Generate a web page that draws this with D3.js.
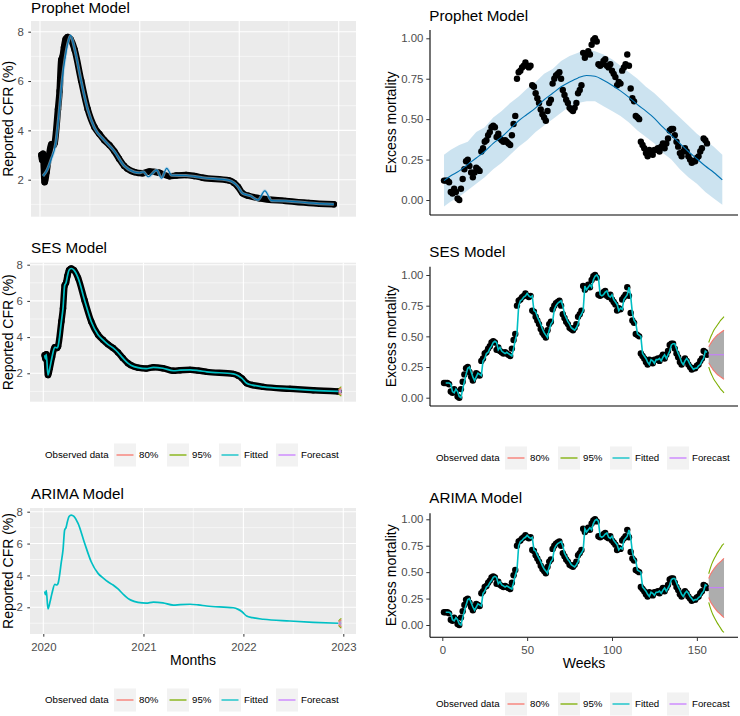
<!DOCTYPE html>
<html>
<head>
<meta charset="utf-8">
<script src="https://cdn.jsdelivr.net/npm/d3@7"></script>
<style>
  body { margin: 0; background: #fff; }
  svg { display: block; font-family: "Liberation Sans", Arial, sans-serif; }
</style>
</head>
<body>
<svg id="chart" width="740" height="716"></svg>
<script>
// ---- reported CFR (%) ----
const cfrDates = [
  '2020-01-06', '2020-01-09', '2020-01-12', '2020-01-18', '2020-01-25', '2020-02-02',
  '2020-02-12', '2020-02-20', '2020-02-24', '2020-03-07', '2020-03-13', '2020-03-19',
  '2020-03-24', '2020-03-29', '2020-04-04', '2020-04-12', '2020-04-22', '2020-05-07',
  '2020-05-31', '2020-06-24', '2020-07-19', '2020-08-06', '2020-08-24', '2020-09-12',
  '2020-09-30', '2020-10-17', '2020-11-05', '2020-11-16', '2020-12-12', '2021-01-11',
  '2021-02-06', '2021-03-13', '2021-04-20', '2021-05-15', '2021-06-20', '2021-07-20',
  '2021-08-20', '2021-11-25', '2021-12-13', '2021-12-27', '2022-01-13', '2022-02-03',
  '2022-03-15', '2022-06-20', '2022-09-13', '2022-12-14'
];
const cfrValues = [
  3.0, 2.8, 3.05, 1.9, 2.3, 2.9,
  3.44, 3.4, 3.5, 4.86, 5.6, 6.85,
  7.0, 7.37, 7.7, 7.79, 7.7, 7.27,
  6.02, 4.86, 4.13, 3.85, 3.6, 3.4,
  3.15, 2.85, 2.56, 2.45, 2.31, 2.26,
  2.33, 2.28, 2.14, 2.17, 2.19, 2.15,
  2.08, 1.97, 1.87, 1.72, 1.45, 1.35,
  1.25, 1.14, 1.06, 1.0
];

// ---- Prophet fit on CFR ----
const prophetDates = [
  '2020-01-12', '2020-01-25', '2020-02-10', '2020-02-28', '2020-03-10', '2020-03-22',
  '2020-04-03', '2020-04-15', '2020-04-22', '2020-05-07', '2020-05-31', '2020-06-24',
  '2020-07-19', '2020-08-24', '2020-09-30', '2020-11-05', '2020-12-12', '2020-12-30',
  '2021-01-14', '2021-02-01', '2021-03-04', '2021-03-22', '2021-04-10', '2021-04-28',
  '2021-06-20', '2021-08-20', '2021-11-25', '2021-12-13', '2021-12-27', '2022-01-13',
  '2022-02-10', '2022-03-11', '2022-04-05', '2022-04-30', '2022-06-20', '2022-09-13',
  '2022-12-14'
];
const prophetValues = [
  2.15, 2.35, 2.8, 3.5, 4.6, 6.0,
  7.0, 7.65, 7.85, 7.3, 6.0, 4.85,
  4.1, 3.6, 3.15, 2.56, 2.31, 2.28,
  2.32, 2.12, 2.39, 2.06, 2.46, 2.18,
  2.17, 2.08, 1.97, 1.87, 1.72, 1.45,
  1.35, 1.18, 1.55, 1.15, 1.14, 1.06,
  1.0
];

// ---- CFR forecasts (short horizon at end of 2022) ----
const cfrFcDates = ['2022-12-15', '2022-12-17', '2022-12-19', '2022-12-21', '2022-12-23', '2022-12-25'];
const cfrSesMean = [1.0, 1.0, 1.0, 1.0, 1.0, 1.0];
const cfrSesLo80 = [0.93, 0.9, 0.87, 0.85, 0.83, 0.81];
const cfrSesHi80 = [1.07, 1.1, 1.13, 1.15, 1.17, 1.19];
const cfrSesLo95 = [0.89, 0.84, 0.81, 0.78, 0.76, 0.74];
const cfrSesHi95 = [1.11, 1.16, 1.19, 1.22, 1.24, 1.26];
const cfrArimaMean = [1.0, 1.0, 1.0, 1.0, 1.0, 1.0];
const cfrArimaLo80 = [0.92, 0.88, 0.85, 0.82, 0.8, 0.78];
const cfrArimaHi80 = [1.08, 1.12, 1.15, 1.18, 1.2, 1.22];
const cfrArimaLo95 = [0.88, 0.82, 0.78, 0.75, 0.72, 0.7];
const cfrArimaHi95 = [1.12, 1.18, 1.22, 1.25, 1.28, 1.3];

// ---- weekly excess mortality (weeks 1..156) ----
const excess = [
  0.12, 0.12, 0.12, 0.11, 0.05, 0.04, 0.07, 0.05, 0.01, 0.00,
  0.07, 0.13, 0.19, 0.24, 0.25, 0.21, 0.17, 0.14, 0.17, 0.20,
  0.19, 0.18, 0.30, 0.32, 0.36, 0.37, 0.40, 0.42, 0.45, 0.46,
  0.45, 0.39, 0.41, 0.38, 0.37, 0.36, 0.37, 0.36, 0.35, 0.34,
  0.40, 0.47, 0.52, 0.75, 0.79, 0.80, 0.82, 0.83, 0.85, 0.83,
  0.82, 0.83, 0.71, 0.70, 0.66, 0.63, 0.60, 0.56, 0.53, 0.51,
  0.49, 0.55, 0.60, 0.62, 0.72, 0.75, 0.77, 0.78, 0.79, 0.75,
  0.68, 0.65, 0.62, 0.60, 0.57, 0.56, 0.55, 0.57, 0.60, 0.66,
  0.68, 0.71, 0.91, 0.88, 0.90, 0.92, 0.90, 0.96, 0.99, 1.00,
  0.98, 0.84, 0.83, 0.84, 0.86, 0.87, 0.83, 0.82, 0.84, 0.80,
  0.78, 0.76, 0.71, 0.73, 0.72, 0.80, 0.82, 0.84, 0.90, 0.83,
  0.69, 0.63, 0.61, 0.52, 0.51, 0.50, 0.36, 0.34, 0.32, 0.29,
  0.27, 0.31, 0.30, 0.28, 0.31, 0.31, 0.32, 0.30, 0.33, 0.35,
  0.32, 0.35, 0.38, 0.43, 0.44, 0.44, 0.40, 0.36, 0.33, 0.29,
  0.27, 0.30, 0.32, 0.30, 0.27, 0.25, 0.23, 0.24, 0.24, 0.26,
  0.27, 0.30, 0.32, 0.38, 0.37, 0.35
];

// ---- Prophet fit on excess mortality ----
const prophetWeeks = [1, 5, 10, 15, 20, 25, 30, 35, 40, 45, 50, 55, 60, 65, 70, 75, 80,
  85, 90, 95, 100, 105, 110, 115, 120, 125, 130, 135, 140, 145, 150, 155, 160, 165];
const prophetFit = [0.12, 0.15, 0.18, 0.22, 0.26, 0.30, 0.35, 0.39, 0.44, 0.49, 0.53, 0.57, 0.62,
  0.66, 0.70, 0.73, 0.755, 0.77, 0.765, 0.74, 0.71, 0.675, 0.635, 0.59, 0.55, 0.505, 0.45,
  0.40, 0.35, 0.30, 0.255, 0.21, 0.17, 0.125];
const prophetHi = [0.28, 0.31, 0.34, 0.36, 0.42, 0.45, 0.51, 0.55, 0.60, 0.64, 0.69, 0.73, 0.78,
  0.81, 0.86, 0.89, 0.91, 0.93, 0.92, 0.90, 0.87, 0.83, 0.79, 0.75, 0.70, 0.66, 0.61,
  0.56, 0.51, 0.46, 0.41, 0.37, 0.33, 0.28];
const prophetLo = [-0.04, -0.01, 0.02, 0.06, 0.10, 0.14, 0.19, 0.23, 0.28, 0.33, 0.37, 0.42, 0.46,
  0.50, 0.54, 0.58, 0.60, 0.61, 0.61, 0.58, 0.55, 0.52, 0.48, 0.43, 0.39, 0.35, 0.29,
  0.25, 0.19, 0.14, 0.10, 0.05, 0.01, -0.03];

// ---- excess mortality forecasts, weeks 157..166 ----
const fcWeeks = [157, 158, 159, 160, 161, 162, 163, 164, 165, 166];
const sesMean = [0.35, 0.35, 0.35, 0.35, 0.35, 0.35, 0.35, 0.35, 0.35, 0.35];
const sesLo80 = [0.285, 0.26, 0.24, 0.22, 0.205, 0.19, 0.18, 0.17, 0.16, 0.15];
const sesHi80 = [0.415, 0.44, 0.46, 0.48, 0.495, 0.51, 0.52, 0.53, 0.54, 0.55];
const sesLo95 = [0.25, 0.21, 0.18, 0.15, 0.13, 0.11, 0.09, 0.07, 0.055, 0.04];
const sesHi95 = [0.45, 0.49, 0.52, 0.55, 0.57, 0.59, 0.61, 0.63, 0.645, 0.66];
const arimaMean = [0.353, 0.353, 0.353, 0.353, 0.353, 0.353, 0.353, 0.353, 0.353, 0.353];
const arimaLo80 = [0.26, 0.22, 0.195, 0.17, 0.15, 0.13, 0.115, 0.10, 0.085, 0.07];
const arimaHi80 = [0.44, 0.48, 0.505, 0.53, 0.55, 0.57, 0.585, 0.60, 0.615, 0.63];
const arimaLo95 = [0.215, 0.16, 0.115, 0.08, 0.05, 0.02, -0.005, -0.03, -0.055, -0.07];
const arimaHi95 = [0.485, 0.54, 0.585, 0.62, 0.65, 0.68, 0.705, 0.73, 0.755, 0.77];

const legendLabels = ['80%', '95%', 'Fitted', 'Forecast'];
const legendColors = ['#F8766D', '#7CAE00', '#00BFC4', '#C77CFF'];
const yearTicks = ['2020-01-01', '2021-01-01', '2022-01-01', '2023-01-01'];
const midYears = ['2020-07-02', '2021-07-02', '2022-07-02'];
const cfrTicks = [2, 4, 6, 8];
const cfrMinor = [1, 3, 5, 7];
const excessTicks = [0, 0.25, 0.5, 0.75, 1];
const weekTicks = [0, 50, 100, 150];

const svg = d3.select('#chart');
const defs = svg.append('defs');
const parse = d3.utcParse('%Y-%m-%d');

const cfr = cfrDates.map((d, i) => ({ date: parse(d), value: cfrValues[i] }));
const prophetCfr = prophetDates.map((d, i) => ({ date: parse(d), value: prophetValues[i] }));
const excessData = excess.map((v, i) => ({ week: i + 1, value: v }));
const prophetEx = prophetWeeks.map((w, i) => ({ week: w, fit: prophetFit[i], lo: prophetLo[i], hi: prophetHi[i] }));

function fanRows(keys, mean, lo80, hi80, lo95, hi95, parseKey) {
  return keys.map((k, i) => ({
    key: parseKey ? parse(k) : k, mean: mean[i],
    lo80: lo80[i], hi80: hi80[i], lo95: lo95[i], hi95: hi95[i]
  }));
}

function drawFan(g, rows, xf, y) {
  g.append('path').datum(rows)
    .attr('d', d3.area().x(d => xf(d.key)).y0(d => y(d.lo80)).y1(d => y(d.hi80)).curve(d3.curveMonotoneX))
    .attr('fill', '#ADADAD');
  const ln = key => d3.line().x(d => xf(d.key)).y(d => y(d[key])).curve(d3.curveMonotoneX);
  [['lo95', '#7CAE00'], ['hi95', '#7CAE00'], ['lo80', '#F8766D'], ['hi80', '#F8766D'], ['mean', '#C77CFF']]
    .forEach(([k, c]) => {
      g.append('path').datum(rows).attr('d', ln(k))
        .attr('fill', 'none').attr('stroke', c).attr('stroke-width', 1.1);
    });
}

function legend(x0, yc) {
  const g = svg.append('g').attr('font-size', '9.7px');
  g.append('text').attr('x', x0).attr('y', yc).attr('dy', '0.35em').text('Observed data');
  const offsets = [69, 122, 174, 231];
  legendLabels.forEach((lab, i) => {
    const bx = x0 + offsets[i];
    g.append('rect').attr('x', bx).attr('y', yc - 11.5).attr('width', 22).attr('height', 23).attr('fill', '#F2F2F2');
    g.append('line').attr('x1', bx + 2.5).attr('x2', bx + 19.5).attr('y1', yc).attr('y2', yc)
      .attr('stroke', legendColors[i]).attr('stroke-width', 1.3);
    g.append('text').attr('x', bx + 25).attr('y', yc).attr('dy', '0.35em').text(lab);
  });
}

function drawLeft(cfg) {
  const [L, R, T, B] = cfg.box;
  const x = d3.scaleUtc().domain([parse('2020-01-01'), parse('2023-01-01')]).range(cfg.xr);
  const y = d3.scaleLinear().domain([2, 8]).range(cfg.yr);
  const g = svg.append('g');

  g.append('rect').attr('x', L).attr('y', T).attr('width', R - L).attr('height', B - T).attr('fill', '#EBEBEB');
  defs.append('clipPath').attr('id', cfg.id).append('rect')
    .attr('x', L).attr('y', T).attr('width', R - L).attr('height', B - T);

  const grid = g.append('g').attr('stroke', '#fff');
  cfrMinor.filter(v => y(v) > T && y(v) < B).forEach(v => {
    grid.append('line').attr('x1', L).attr('x2', R).attr('y1', y(v)).attr('y2', y(v)).attr('stroke-width', 0.55);
  });
  midYears.map(parse).forEach(d => {
    grid.append('line').attr('x1', x(d)).attr('x2', x(d)).attr('y1', T).attr('y2', B).attr('stroke-width', 0.55);
  });
  cfrTicks.forEach(v => {
    grid.append('line').attr('x1', L).attr('x2', R).attr('y1', y(v)).attr('y2', y(v)).attr('stroke-width', 1.1);
  });
  yearTicks.map(parse).forEach(d => {
    grid.append('line').attr('x1', x(d)).attr('x2', x(d)).attr('y1', T).attr('y2', B).attr('stroke-width', 1.1);
  });

  const plot = g.append('g').attr('clip-path', `url(#${cfg.id})`);
  const cfrLine = d3.line().x(d => x(d.date)).y(d => y(d.value)).curve(d3.curveMonotoneX);

  if (cfg.observed) {
    plot.append('path').datum(cfr).attr('d', cfrLine)
      .attr('fill', 'none').attr('stroke', '#000').attr('stroke-width', 6.5)
      .attr('stroke-linejoin', 'round').attr('stroke-linecap', 'round');
    plot.selectAll('.obs').data(cfr).enter().append('circle')
      .attr('cx', d => x(d.date)).attr('cy', d => y(d.value)).attr('r', 3.2).attr('fill', '#000');
  }
  if (cfg.model === 'prophet') {
    const pl = d3.line().x(d => x(d.date)).y(d => y(d.value)).curve(d3.curveMonotoneX);
    plot.append('path').datum(prophetCfr).attr('d', pl)
      .attr('fill', 'none').attr('stroke', '#9ECAE1').attr('stroke-width', 3).attr('opacity', 0.6);
    plot.append('path').datum(prophetCfr).attr('d', pl)
      .attr('fill', 'none').attr('stroke', '#0072B2').attr('stroke-width', 1.2);
  } else {
    plot.append('path').datum(cfr).attr('d', cfrLine)
      .attr('fill', 'none').attr('stroke', '#00BFC4').attr('stroke-width', 1.7);
    drawFan(plot, cfg.fan, x, y);
  }

  const ya = g.append('g').attr('transform', `translate(${L},0)`)
    .call(d3.axisLeft(y).tickValues(cfrTicks).tickFormat(d3.format('d')).tickSize(2.7).tickPadding(4.5));
  ya.select('.domain').remove();
  ya.attr('font-size', '11.4px').attr('font-family', null);
  ya.selectAll('line').attr('stroke', '#333');
  ya.selectAll('text').attr('fill', '#4D4D4D');

  if (cfg.xLabels) {
    const xa = g.append('g').attr('transform', `translate(0,${B})`)
      .call(d3.axisBottom(x).tickValues(yearTicks.map(parse)).tickFormat(d3.utcFormat('%Y')).tickSize(2.7).tickPadding(5.8));
    xa.select('.domain').remove();
    xa.attr('font-size', '11.4px').attr('font-family', null);
    xa.selectAll('line').attr('stroke', '#333');
    xa.selectAll('text').attr('fill', '#4D4D4D');
    svg.append('text').attr('x', (L + R) / 2).attr('y', 665).attr('text-anchor', 'middle')
      .attr('font-size', '14px').text('Months');
  }

  svg.append('text').attr('x', 31).attr('y', cfg.titleY).attr('font-size', '15.2px').text(cfg.title);
  svg.append('text').attr('transform', `translate(12.8,${(T + B) / 2}) rotate(-90)`)
    .attr('text-anchor', 'middle').attr('font-size', '14px').text('Reported CFR (%)');
}

function drawRight(cfg) {
  const L = 430, R = 738;
  const x = d3.scaleLinear().domain([-7.25, 174.25]).range([L, R]);
  const y = d3.scaleLinear().domain([0, 1]).range([cfg.y0, cfg.y1]);
  const g = svg.append('g');

  if (cfg.model === 'prophet') {
    g.append('path').datum(prophetEx)
      .attr('d', d3.area().x(d => x(d.week)).y0(d => y(d.lo)).y1(d => y(d.hi)).curve(d3.curveLinear))
      .attr('fill', '#0072B2').attr('opacity', 0.2);
    g.selectAll('.pt').data(excessData).enter().append('circle')
      .attr('cx', d => x(d.week)).attr('cy', d => y(d.value)).attr('r', 3.2).attr('fill', '#000');
    g.append('path').datum(prophetEx)
      .attr('d', d3.line().x(d => x(d.week)).y(d => y(d.fit)).curve(d3.curveMonotoneX))
      .attr('fill', 'none').attr('stroke', '#0072B2').attr('stroke-width', 1.1);
  } else {
    g.selectAll('.pt').data(excessData).enter().append('circle')
      .attr('cx', d => x(d.week)).attr('cy', d => y(d.value)).attr('r', 3.2).attr('fill', '#000');
    // one-step-ahead fit: each observation becomes the fitted value of the following week
    g.append('path').datum(excessData.slice(0, -1))
      .attr('d', d3.line().x(d => x(d.week + 1)).y(d => y(d.value)))
      .attr('fill', 'none').attr('stroke', '#00BFC4').attr('stroke-width', 1.6);
    drawFan(g, cfg.fan, x, y);
  }

  g.append('line').attr('x1', L).attr('x2', L).attr('y1', cfg.top).attr('y2', cfg.bottom)
    .attr('stroke', '#000').attr('stroke-width', 1.1);
  g.append('line').attr('x1', L).attr('x2', R).attr('y1', cfg.bottom).attr('y2', cfg.bottom)
    .attr('stroke', '#000').attr('stroke-width', 1.1);

  const ya = g.append('g').attr('transform', `translate(${L},0)`)
    .call(d3.axisLeft(y).tickValues(excessTicks).tickFormat(d3.format('.2f')).tickSize(3.7).tickPadding(3));
  ya.select('.domain').remove();
  ya.attr('font-size', '11.4px').attr('font-family', null);
  ya.selectAll('line').attr('stroke', '#333');
  ya.selectAll('text').attr('fill', '#4D4D4D');

  if (cfg.xLabels) {
    const xa = g.append('g').attr('transform', `translate(0,${cfg.bottom})`)
      .call(d3.axisBottom(x).tickValues(weekTicks).tickSize(3.7).tickPadding(5));
    xa.select('.domain').remove();
    xa.attr('font-size', '11.4px').attr('font-family', null);
    xa.selectAll('line').attr('stroke', '#333');
    xa.selectAll('text').attr('fill', '#4D4D4D');
    svg.append('text').attr('x', (L + R) / 2).attr('y', 668).attr('text-anchor', 'middle')
      .attr('font-size', '14px').text('Weeks');
  }

  svg.append('text').attr('x', 429.3).attr('y', cfg.titleY).attr('font-size', '15.2px').text(cfg.title);
  svg.append('text').attr('transform', `translate(395.5,${(cfg.top + cfg.bottom) / 2}) rotate(-90)`)
    .attr('text-anchor', 'middle').attr('font-size', '14px').text('Excess mortality');
}

drawLeft({ id: 'c1', model: 'prophet', observed: true, title: 'Prophet Model', titleY: 12.7,
  box: [31, 356, 21, 216.7], xr: [40, 338.7], yr: [179.7, 31.7] });
drawLeft({ id: 'c2', model: 'ses', observed: true, title: 'SES Model', titleY: 253.3,
  box: [30, 356, 262.7, 401.7], xr: [43.3, 343.3], yr: [373.3, 264.7],
  fan: fanRows(cfrFcDates, cfrSesMean, cfrSesLo80, cfrSesHi80, cfrSesLo95, cfrSesHi95, true) });
drawLeft({ id: 'c3', model: 'arima', observed: false, title: 'ARIMA Model', titleY: 499.3, xLabels: true,
  box: [30, 356, 508, 634], xr: [43.3, 343.3], yr: [607.3, 511.7],
  fan: fanRows(cfrFcDates, cfrArimaMean, cfrArimaLo80, cfrArimaHi80, cfrArimaLo95, cfrArimaHi95, true) });

drawRight({ model: 'prophet', title: 'Prophet Model', titleY: 20.7, top: 30, bottom: 215, y0: 200, y1: 38.3 });
drawRight({ model: 'ses', title: 'SES Model', titleY: 257.3, top: 266.7, bottom: 406, y0: 397.7, y1: 275,
  fan: fanRows(fcWeeks, sesMean, sesLo80, sesHi80, sesLo95, sesHi95, false) });
drawRight({ model: 'arima', title: 'ARIMA Model', titleY: 503.3, top: 513.3, bottom: 637.3, y0: 625, y1: 519.3,
  xLabels: true, fan: fanRows(fcWeeks, arimaMean, arimaLo80, arimaHi80, arimaLo95, arimaHi95, false) });

legend(45, 455);
legend(45, 700);
legend(436, 458);
legend(436, 704);
</script>
</body>
</html>
